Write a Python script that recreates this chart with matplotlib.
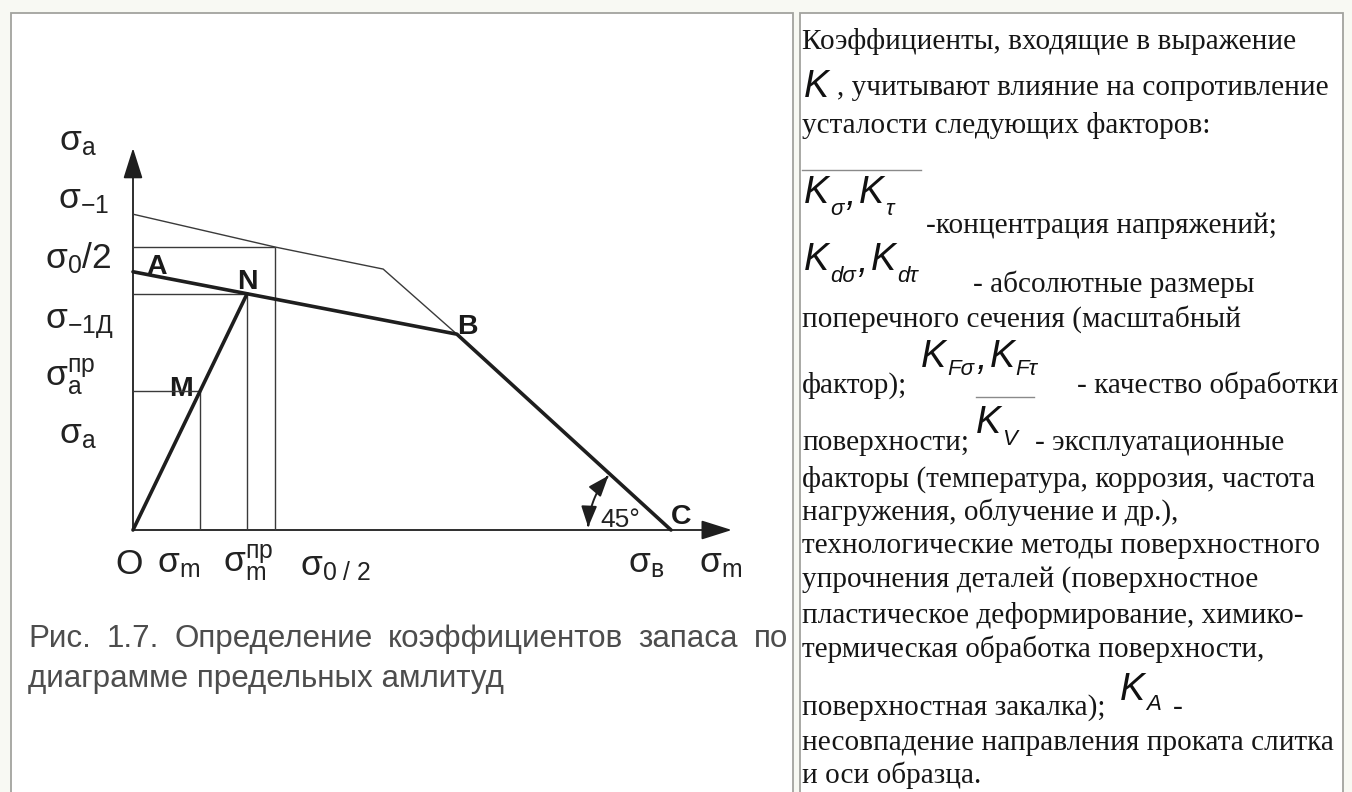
import matplotlib
matplotlib.use("Agg")
import matplotlib.pyplot as plt
from matplotlib.patches import Rectangle, FancyArrowPatch
from matplotlib.path import Path
import numpy as np

plt.rcParams["mathtext.fontset"] = "custom"
plt.rcParams["mathtext.rm"] = "Liberation Sans"
plt.rcParams["mathtext.it"] = "Liberation Sans:italic"
plt.rcParams["mathtext.bf"] = "Liberation Sans:bold"
plt.rcParams["font.family"] = ["Liberation Sans", "DejaVu Sans"]

# ---- Haigh diagram values (sigma_B = 100) ----
limit_m = [0.0, 26.4, 46.5, 60.2]      # limit amplitude line of the smooth sample
limit_a = [58.7, 52.6, 48.5, 36.4]
part_m = [0.0, 60.2, 100.0]            # limit line of the part: A - B - C
part_a = [48.0, 36.4, 0.0]
ray_m = [0.0, 21.2]                    # load ray O - N
ray_a = [0.0, 43.9]
point_M = (12.45, 25.8)                # working point
half_zero_m = 26.4                     # sigma_0 / 2 on both axes
half_zero_a = 52.6
axis_top = 71.0
axis_right = 111.3
angle_deg = 45

INK = "#1e1e1e"
THIN = "#3a3a3a"

fig = plt.figure(figsize=(13.52, 7.92), dpi=100, facecolor="#f8f9f3")

# pixel-space layer for the table cells and all text
pix = fig.add_axes([0, 0, 1, 1])
pix.set_xlim(0, 1352)
pix.set_ylim(792, 0)
pix.axis("off")
for x0, x1 in [(11, 793), (800, 1343)]:
    pix.add_patch(Rectangle((x0, 13), x1 - x0, 800, facecolor="white",
                            edgecolor="#a2a39e", lw=1.3))

# ---- diagram ----
PX = 5.38              # pixels per unit
O_X, O_Y = 133, 530    # origin of the diagram on the page
ax = fig.add_axes([0, 0, 1, 1])
ax.set_xlim(-O_X / PX, (1352 - O_X) / PX)
ax.set_ylim(-(792 - O_Y) / PX, O_Y / PX)
ax.axis("off")
ax.patch.set_alpha(0)

arrow_kw = dict(arrowstyle="-|>,head_length=0.95,head_width=0.3",
                mutation_scale=20, lw=1.3, color=INK, shrinkA=0, shrinkB=0)
ax.add_patch(FancyArrowPatch((0, 0), (0, axis_top), **arrow_kw))
ax.add_patch(FancyArrowPatch((0, 0), (axis_right, 0), **arrow_kw))

thin = dict(color=THIN, lw=1.0, solid_capstyle="butt")
ax.plot(limit_m, limit_a, **thin)
N_m, N_a = ray_m[1], ray_a[1]
M_m, M_a = point_M
for xm, ya in [(half_zero_m, half_zero_a), (N_m, N_a), (M_m, M_a)]:
    ax.plot([0, xm], [ya, ya], **thin)
    ax.plot([xm, xm], [0, ya], **thin)

thick = dict(color=INK, lw=2.6, solid_capstyle="round", solid_joinstyle="round")
ax.plot(part_m, part_a, **thick)
ax.plot(ray_m, ray_a, **thick)

# 45 degree mark at C
C_m = part_m[-1]
r = 15.4
theta = np.radians(np.linspace(178, 180 - angle_deg + 4, 40))
arc = np.column_stack([C_m + r * np.cos(theta), r * np.sin(theta)])
ax.add_patch(FancyArrowPatch(path=Path(arc),
                             arrowstyle="<|-|>,head_length=0.8,head_width=0.3",
                             mutation_scale=16, lw=1.4, color=INK))

# ---- diagram labels ----
LAB = dict(color="#222222", fontsize=25.5, va="baseline", ha="left")
labels = [
    (r"$\mathrm{σ_a}$", 59, 150),
    (r"$\mathrm{σ_{-1}}$", 58, 208),
    (r"$\mathrm{σ_0/2}$", 45, 268),
    (r"$\mathrm{σ_{-1Д}}$", 45, 328),
    (r"$\mathrm{σ_a^{пр}}$", 45, 386),
    (r"$\mathrm{σ_a}$", 59, 443),
    ("O", 115, 574),
    (r"$\mathrm{σ_m}$", 157, 572),
    (r"$\mathrm{σ_m^{пр}}$", 223, 572),
    (r"$\mathrm{σ_{0\ /\ 2}}$", 300, 575),
    (r"$\mathrm{σ_в}$", 628, 572),
    (r"$\mathrm{σ_m}$", 699, 572),
]
for s, x, y in labels:
    pix.text(x, y, s, **LAB)

PT = dict(color="#1a1a1a", fontsize=20.5, fontweight="bold", va="baseline", ha="left")
for s, x, y in [("A", 146, 274), ("N", 237, 289), ("B", 457, 334),
                ("M", 169, 396), ("C", 671, 524)]:
    pix.text(x, y, s, **PT)
pix.text(600, 527, f"{angle_deg}°", color="#222222", fontsize=19,
         va="baseline", ha="left")

fig.canvas.draw()
rend = fig.canvas.get_renderer()


def width_of(t):
    return t.get_window_extent(rend).width


# ---- caption (justified first line) ----
CAP = dict(color="#4d4d4d", va="baseline", ha="left", family="Liberation Sans")
cap2 = pix.text(28, 687, "диаграмме предельных амлитуд", fontsize=20, **CAP)
cap_size = 20 * 475 / width_of(cap2)
cap2.set_fontsize(cap_size)
words = "Рис. 1.7. Определение коэффициентов запаса по".split()
objs = [pix.text(0, 647, w, fontsize=cap_size, **CAP) for w in words]
ws = [width_of(o) for o in objs]
gap = (788 - 28 - sum(ws)) / (len(words) - 1)
x = 28
for o, w in zip(objs, ws):
    o.set_x(x)
    x += w + gap

# ---- right column ----
TXT = dict(color="#161616", va="baseline", ha="left", family="Liberation Serif")
probe = pix.text(802, 750, "несовпадение направления проката слитка", fontsize=20, **TXT)
txt_size = 20 * 533 / width_of(probe)
probe.set_fontsize(txt_size)

plain_lines = [
    ("Коэффициенты, входящие в выражение", 802, 49),
    (", учитывают влияние на сопротивление", 837, 95),
    ("усталости следующих факторов:", 802, 133),
    ("-концентрация напряжений;", 926, 233),
    ("- абсолютные размеры", 973, 292),
    ("поперечного сечения (масштабный", 802, 327),
    ("фактор);", 802, 393),
    ("- качество обработки", 1077, 393),
    ("поверхности;", 802, 450),
    ("- эксплуатационные", 1035, 450),
    ("факторы (температура, коррозия, частота", 802, 487),
    ("нагружения, облучение и др.),", 802, 520),
    ("технологические методы поверхностного", 802, 553),
    ("упрочнения деталей (поверхностное", 802, 587),
    ("пластическое деформирование, химико-", 802, 623),
    ("термическая обработка поверхности,", 802, 657),
    ("поверхностная закалка);", 802, 715),
    ("-", 1173, 715),
    ("и оси образца.", 802, 783),
]
for s, x, y in plain_lines:
    pix.text(x, y, s, fontsize=txt_size, **TXT)

# coefficient symbols: letter K with italic subscripts, laid out one after another
K_STYLE = dict(color="#111111", va="baseline", ha="left",
               family="Liberation Sans", style="italic")
K_SIZE, SUB_SIZE = 27, 16


def symbol_group(x, y, subs, drop):
    for i, sub in enumerate(subs):
        if i:
            c = pix.text(x, y + 2, ",", fontsize=K_SIZE, **K_STYLE)
            x += width_of(c) + 3
        k = pix.text(x, y, "K", fontsize=K_SIZE, **K_STYLE)
        x += width_of(k) + 1
        if sub:
            s = pix.text(x, y + drop, sub, fontsize=SUB_SIZE, **K_STYLE)
            x += width_of(s) + 2
    return x


symbol_groups = [
    (804, 97, [""], 0),
    (804, 203, ["σ", "τ"], 12),
    (804, 270, ["dσ", "dτ"], 12),
    (921, 367, ["Fσ", "Fτ"], 8),
    (976, 433, ["V"], 12),
    (1120, 700, ["A"], 10),
]
for x0, y0, subs, drop in symbol_groups:
    symbol_group(x0, y0, subs, drop)

for x0, x1, y in [(802, 921, 170), (976, 1034, 397)]:
    pix.plot([x0, x1], [y, y], color="#8a8a8a", lw=1.0)

fig.savefig("out.png", dpi=100, facecolor=fig.get_facecolor())
